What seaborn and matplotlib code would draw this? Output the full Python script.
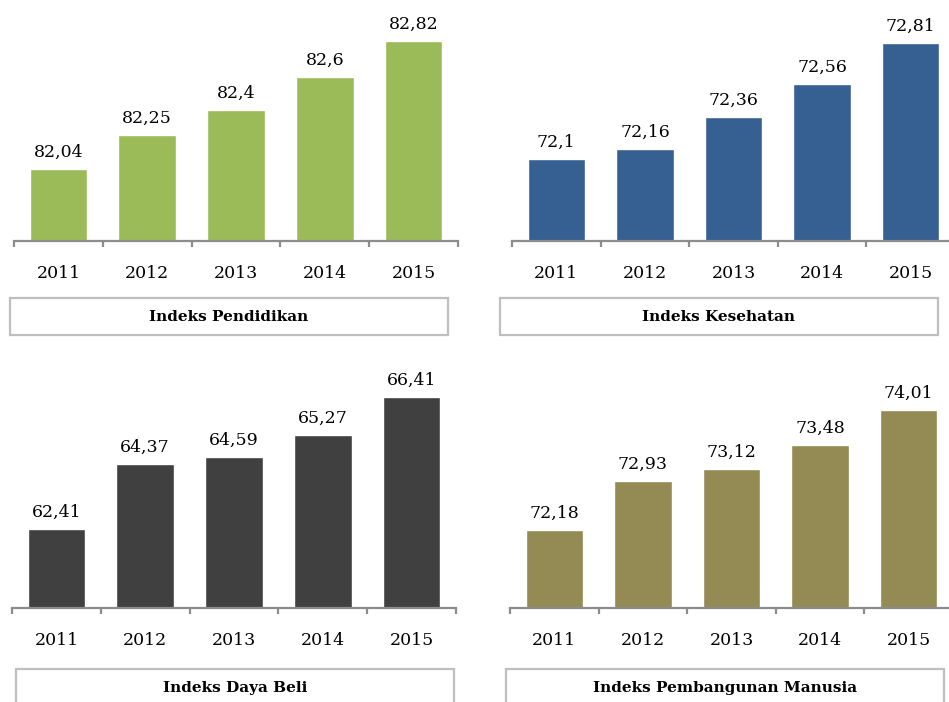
import matplotlib
matplotlib.use("Agg")
import matplotlib.pyplot as plt
from matplotlib.patches import Rectangle
import seaborn as sns

years = ["2011", "2012", "2013", "2014", "2015"]
pendidikan = [82.04, 82.25, 82.40, 82.60, 82.82]
kesehatan = [72.10, 72.16, 72.36, 72.56, 72.81]
daya_beli = [62.41, 64.37, 64.59, 65.27, 66.41]
ipm = [72.18, 72.93, 73.12, 73.48, 74.01]
titles = ["Indeks Pendidikan", "Indeks Kesehatan", "Indeks Daya Beli", "Indeks Pembangunan Manusia"]

W, H = 949, 702
sns.set_style("white")
plt.rcParams["font.family"] = ["DejaVu Serif"]
plt.rcParams["text.color"] = "black"
plt.rcParams["xtick.labelcolor"] = "black"

fig = plt.figure(figsize=(W / 100, H / 100), dpi=100)

def px_axes(x0, x1, y0, y1):
    # pixel box (top-left origin) -> figure fraction
    return fig.add_axes([x0 / W, 1 - y1 / H, (x1 - x0) / W, (y1 - y0) / H])

def title_box(x0, x1, y0, y1, text, ty):
    fig.patches.append(Rectangle((x0 / W, 1 - y1 / H), (x1 - x0) / W, (y1 - y0) / H,
                                 transform=fig.transFigure, fill=False,
                                 edgecolor="#bfbfbf", linewidth=1.6, clip_on=False))
    fig.text(((x0 + x1) / 2) / W, 1 - ty / H, text, ha="center", va="center",
             fontsize=11, fontweight="bold", color="black")

panels = [
    (pendidikan, "#9bbb59", (14, 458, 12, 241), (81.6, 83.0), (10, 448, 298, 335, 317)),
    (kesehatan, "#366092", (512, 955, 12, 241), (71.6, 73.0), (500, 938, 298, 335, 317)),
    (daya_beli, "#404040", (12, 456, 378, 608), (60, 67), (16, 454, 669, 720, 688)),
    (ipm, "#948a54", (510, 953, 378, 608), (71, 74.5), (506, 944, 669, 720, 688)),
]

for (vals, col, box, lim, tb), title in zip(panels, titles):
    ax = px_axes(*box)
    sns.barplot(x=years, y=vals, color=col, saturation=1, width=0.65, ax=ax)
    ax.set_xlim(-0.5, 4.5)
    ax.set_ylim(*lim)
    ax.set_xlabel("")
    ax.set_ylabel("")
    ax.set_yticks([])
    for s in ["top", "right", "left"]:
        ax.spines[s].set_visible(False)
    ax.spines["bottom"].set_color("#8c8c8c")
    ax.spines["bottom"].set_linewidth(1.6)
    ax.set_xticks([i - 0.5 for i in range(6)], minor=True)
    ax.tick_params(axis="x", which="minor", length=4, width=1.6, color="#8c8c8c", direction="out", bottom=True)
    ax.tick_params(axis="x", which="major", length=0, pad=17, labelsize=12.5, labelcolor="black")
    ax.patch.set_alpha(0)
    labels = [f"{v:g}".replace(".", ",") for v in vals]
    ax.bar_label(ax.containers[0], labels=labels, padding=6, fontsize=12.5, color="black", clip_on=False)
    title_box(tb[0], tb[1], tb[2], tb[3], title, tb[4])

fig.savefig("out.png", dpi=100)
